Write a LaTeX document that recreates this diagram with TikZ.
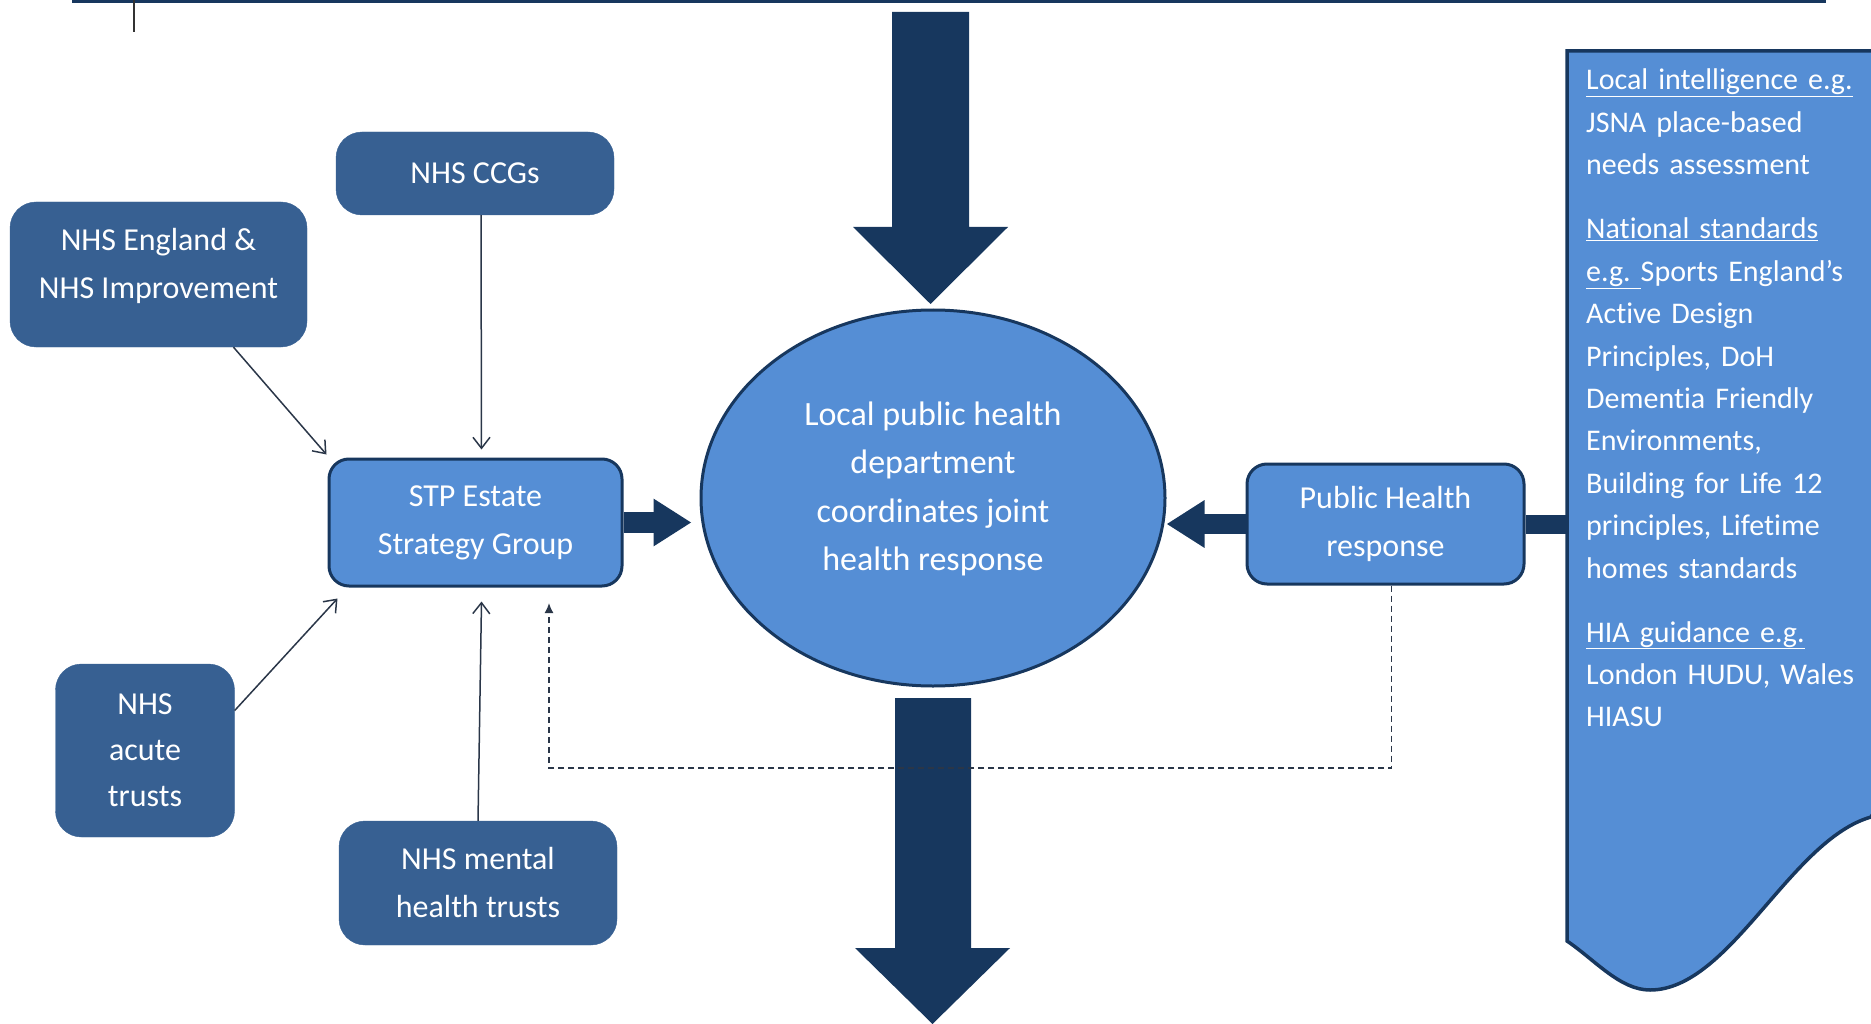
\documentclass[tikz,border=0pt]{standalone}
\usepackage{fontspec}
\setmainfont{Carlito}[Ligatures={NoCommon}]
\usetikzlibrary{arrows.meta,shapes.geometric}
\definecolor{navy}{HTML}{17375E}
\definecolor{boxdark}{HTML}{376092}
\definecolor{boxlight}{HTML}{558ED5}
\definecolor{linegray}{HTML}{2A3648}
\begin{document}
\begin{tikzpicture}[x=1pt,y=-1pt,
  darkbox/.style={rectangle,rounded corners=26pt,fill=boxdark,draw=boxdark,text=white,align=center,inner sep=0pt,font=\fontsize{32}{48}\selectfont},
  lightbox/.style={rectangle,rounded corners=20pt,fill=boxlight,draw=navy,line width=3pt,text=white,align=center,inner sep=0pt,font=\fontsize{32}{48}\selectfont},
  thinarrow/.style={draw=linegray,line width=1.5pt,-{Straight Barb[length=11pt,width=17pt]}},
  fatarrow/.style={draw=navy,line width=21pt,-{Triangle[length=38pt,width=45pt]}},
  dashconn/.style={draw=linegray,line width=1.6pt,dash pattern=on 6pt off 4pt,-{Latex[length=10pt,width=9pt]}},
  paneltext/.style={anchor=base west,text=white,align=left,inner sep=0pt,text width=290pt,font=\fontsize{30}{42.4}\selectfont}
]
\useasboundingbox (0,0) rectangle (1871,1024);
\clip (0,0) rectangle (1871,1024);

% top rule and tick
\draw[navy,line width=3.5pt] (72,1.5) -- (1826,1.5);
\draw[black!80,line width=1.5pt] (134,0) -- (134,32);

% big vertical arrows
\fill[navy] (892,12) -- (969,12) -- (969,227) -- (1008,227) -- (930.5,304) -- (853,227) -- (892,227) -- cycle;
\fill[navy] (895,698) -- (971,698) -- (971,948) -- (1010,948) -- (932.5,1024) -- (855,948) -- (895,948) -- cycle;

% right panel
\filldraw[fill=boxlight,draw=navy,line width=3.5pt]
  (1567,941) -- (1567,51) -- (1895,51) -- (1895,800)
  .. controls (1875,810) .. (1871,817)
  .. controls (1790,840) and (1730,990) .. (1650,990)
  .. controls (1620,990) and (1595,960) .. (1567,941) -- cycle;
\coordinate (panelL) at (1567,522);

\node[paneltext] (p1) at (1586,90) {\underline{Local intelligence e.g.}\\JSNA place-based\\needs assessment};
\node[paneltext] (p2) at (1586,239) {\underline{National standards}\\\underline{e.g.\ }Sports England’s\\Active Design\\Principles, DoH\\Dementia Friendly\\Environments,\\Building for Life 12\\principles, Lifetime\\homes standards};
\node[paneltext] (p3) at (1586,642) {\underline{HIA guidance e.g.}\\London HUDU, Wales\\HIASU};

% nodes
\node[darkbox,minimum width=278pt,minimum height=83pt] (ccg) at (475,173.5) {NHS CCGs};
\node[darkbox,minimum width=297pt,minimum height=145pt] (eng) at (158.5,274.5) {};
\node[text=white,align=center,inner sep=0pt,font=\fontsize{32}{48}\selectfont] (engt) at (158.5,266) {NHS England \&\\NHS Improvement};
\node[darkbox,minimum width=179pt,minimum height=173pt,font=\fontsize{32}{46}\selectfont] (acute) at (145,750.5) {NHS\\acute\\trusts};
\node[darkbox,minimum width=278pt,minimum height=124pt] (mental) at (478,883) {NHS mental\\health trusts};
\node[lightbox,minimum width=293pt,minimum height=127pt] (stp) at (475.5,522.5) {STP Estate\\Strategy Group};
\node[lightbox,minimum width=277pt,minimum height=120pt] (ph) at (1385.5,524) {Public Health\\response};
\node[ellipse,fill=boxlight,draw=navy,line width=3pt,minimum width=464pt,minimum height=376pt,inner sep=0pt] (ell) at (933,498) {};
\node[text=white,align=center,inner sep=0pt,font=\fontsize{34}{48.5}\selectfont] (ellt) at (933,489) {Local public health\\department\\coordinates joint\\health response};

% thin arrows
\draw[thinarrow] ([xshift=75pt]eng.south) -- ([xshift=-1pt,yshift=3pt]stp.north west);
\draw[thinarrow] ([xshift=6pt]ccg.south) -- ([xshift=6pt,yshift=8pt]stp.north);
\draw[thinarrow] ([yshift=40pt]acute.east) -- ([xshift=10pt,yshift=-11pt]stp.south west);
\draw[thinarrow] (mental.north) -- ([xshift=6pt,yshift=-14pt]stp.south);

% fat horizontal arrows
\draw[fatarrow,shorten >=8pt] (stp.east) -- (stp.east -| ell.west);
\draw[fatarrow,line width=20pt,shorten >=0pt] (ph.west) -- (ph.west -| ell.east);
\draw[navy,line width=19pt] (ph.east) -- (ph.east -| panelL);

% dashed feedback
\coordinate (dashc) at (549,768);
\coordinate (dashtip) at (549,603);
\draw[dashconn] ([xshift=6pt]ph.south) |- (dashc) -- (dashtip);
\end{tikzpicture}
\end{document}
